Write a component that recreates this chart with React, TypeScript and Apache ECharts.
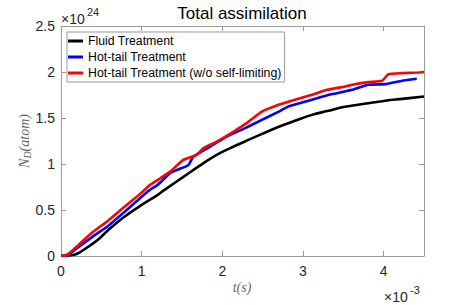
import React, { useEffect, useRef } from "react";
import * as echarts from "echarts";

// time in units of 1e-3 s, N_D in units of 1e24 atoms
const fluidT = [0, 0.1, 0.2, 0.335, 0.45, 0.583, 0.79, 1.0, 1.2, 1.27, 1.517, 1.725, 1.93, 2.14, 2.345, 2.5, 2.7, 2.9, 3.11, 3.3, 3.52, 3.81, 4.02, 4.23, 4.5];
const fluidN = [0, 0.005, 0.025, 0.1, 0.17, 0.28, 0.43, 0.555, 0.665, 0.71, 0.86, 0.985, 1.1, 1.19, 1.27, 1.33, 1.405, 1.47, 1.534, 1.575, 1.622, 1.66, 1.688, 1.708, 1.734];

const hotT = [0, 0.05, 0.1, 0.17, 0.376, 0.583, 0.79, 1.0, 1.104, 1.2, 1.352, 1.45, 1.58, 1.64, 1.85, 2.056, 2.283, 2.49, 2.7, 2.82, 3.11, 3.32, 3.52, 3.61, 3.81, 4.02, 4.23, 4.41];
const hotN = [0, 0.005, 0.02, 0.065, 0.2, 0.326, 0.482, 0.645, 0.72, 0.775, 0.9, 0.94, 0.99, 1.08, 1.19, 1.298, 1.39, 1.48, 1.57, 1.625, 1.698, 1.752, 1.788, 1.806, 1.861, 1.868, 1.904, 1.926];

const noLimT = [0, 0.05, 0.087, 0.17, 0.376, 0.583, 0.79, 1.0, 1.104, 1.2, 1.352, 1.517, 1.68, 1.766, 1.93, 2.14, 2.3, 2.49, 2.7, 2.9, 3.11, 3.3, 3.52, 3.61, 3.81, 3.98, 4.06, 4.23, 4.43, 4.5];
const noLimN = [0, 0.005, 0.02, 0.083, 0.247, 0.384, 0.537, 0.689, 0.773, 0.827, 0.917, 1.045, 1.099, 1.172, 1.244, 1.353, 1.444, 1.57, 1.643, 1.698, 1.752, 1.806, 1.842, 1.861, 1.89, 1.904, 1.977, 1.988, 1.995, 2.0];

const seriesNames = ["Fluid Treatment", "Hot-tail Treatment", "Hot-tail Treatment (w/o self-limiting)"];
const seriesColors = ["#000000", "#0000ff", "#ff0000"];
const seriesSmooth = [0.4, 0.15, 0.15];

const xTicks = [0, 1, 2, 3, 4];
const yTicks = [0, 0.5, 1, 1.5, 2, 2.5];

const SANS = "'Liberation Sans', Arial, Helvetica, sans-serif";
const SERIF = "'Liberation Serif', 'DejaVu Serif', serif";
const AX = "#9a9a9a";

function zip(a: number[], b: number[]) {
  return a.map((v, i) => [v, b[i]]);
}

export default function App() {
  const ref = useRef<HTMLDivElement>(null);
  useEffect(() => {
    document.body.style.margin = "0";
    if (!ref.current) return;
    const chart = echarts.init(ref.current, undefined, { renderer: "svg" });
    const xAxisBase = {
      type: "value" as const,
      min: 0,
      max: 4.5,
      interval: 1,
      splitLine: { show: false },
      axisLine: { show: true, onZero: false, lineStyle: { color: AX, width: 1 } },
      axisTick: { show: true, inside: true, length: 5, lineStyle: { color: AX } },
    };
    const yAxisBase = {
      type: "value" as const,
      min: 0,
      max: 2.5,
      interval: 0.5,
      splitLine: { show: false },
      axisLine: { show: true, onZero: false, lineStyle: { color: AX, width: 1 } },
      axisTick: { show: true, inside: true, length: 5, lineStyle: { color: AX } },
    };
    const data = [zip(fluidT, fluidN), zip(hotT, hotN), zip(noLimT, noLimN)];
    chart.setOption({
      animation: false,
      grid: { left: 61, right: 45, top: 26, bottom: 49, containLabel: false },
      xAxis: [
        {
          ...xAxisBase,
          position: "bottom",
          axisLabel: {
            color: "#262626",
            fontSize: 14,
            fontFamily: SANS,
            margin: 8,
            formatter: (v: number) => (xTicks.includes(v) ? String(v) : ""),
          },
        },
        { ...xAxisBase, position: "top", axisLabel: { show: false } },
      ],
      yAxis: [
        {
          ...yAxisBase,
          position: "left",
          axisLabel: {
            color: "#262626",
            fontSize: 14,
            fontFamily: SANS,
            margin: 6,
            formatter: (v: number) => (yTicks.includes(v) ? String(v) : ""),
          },
        },
        { ...yAxisBase, position: "right", axisLabel: { show: false } },
      ],
      legend: {
        left: 67,
        top: 32,
        orient: "vertical",
        backgroundColor: "#ffffff",
        borderColor: "#999999",
        borderWidth: 1,
        borderRadius: 0,
        padding: [1, 3, 1, 1],
        itemWidth: 15,
        itemHeight: 3,
        itemGap: 0,
        icon: "rect",
        selectedMode: false,
        data: seriesNames,
        textStyle: { fontFamily: SANS, fontSize: 12.3, color: "#000", lineHeight: 16 },
      },
      series: seriesNames.map((name, i) => ({
        name,
        type: "line",
        data: data[i],
        showSymbol: false,
        symbol: "none",
        smooth: seriesSmooth[i],
        color: seriesColors[i],
        lineStyle: { color: seriesColors[i], width: 2.6 },
        z: 2 + i,
      })),
      graphic: [
        {
          type: "text",
          x: 242,
          y: 13,
          style: { text: "Total assimilation", font: `17px ${SANS}`, fill: "#000", textAlign: "center", textVerticalAlign: "middle" },
        },
        {
          type: "text",
          x: 61,
          y: 19,
          style: { text: "×10", font: `14px ${SANS}`, fill: "#262626", textAlign: "left", textVerticalAlign: "middle" },
        },
        {
          type: "text",
          x: 87,
          y: 12,
          style: { text: "24", font: `11px ${SANS}`, fill: "#262626", textAlign: "left", textVerticalAlign: "middle" },
        },
        {
          type: "text",
          x: 384,
          y: 297,
          style: { text: "×10", font: `14px ${SANS}`, fill: "#262626", textAlign: "left", textVerticalAlign: "middle" },
        },
        {
          type: "text",
          x: 410,
          y: 290,
          style: { text: "-3", font: `11px ${SANS}`, fill: "#262626", textAlign: "left", textVerticalAlign: "middle" },
        },
        {
          type: "text",
          x: 242,
          y: 287,
          style: { text: "t(s)", font: `italic 14px ${SERIF}`, fill: "#666", textAlign: "center", textVerticalAlign: "middle" },
        },
        {
          type: "text",
          x: 24,
          y: 141,
          rotation: Math.PI / 2,
          style: {
            text: "{n|N}{d|D}{n|(atom)}",
            textAlign: "center",
            textVerticalAlign: "middle",
            rich: {
              n: { font: `italic 14px ${SERIF}`, fill: "#666" },
              d: { font: `italic 10px ${SERIF}`, fill: "#666", padding: [7, 0, 0, 0] },
            },
          },
        },
      ],
    });
    return () => chart.dispose();
  }, []);
  return <div ref={ref} style={{ width: 469, height: 305 }} />;
}
